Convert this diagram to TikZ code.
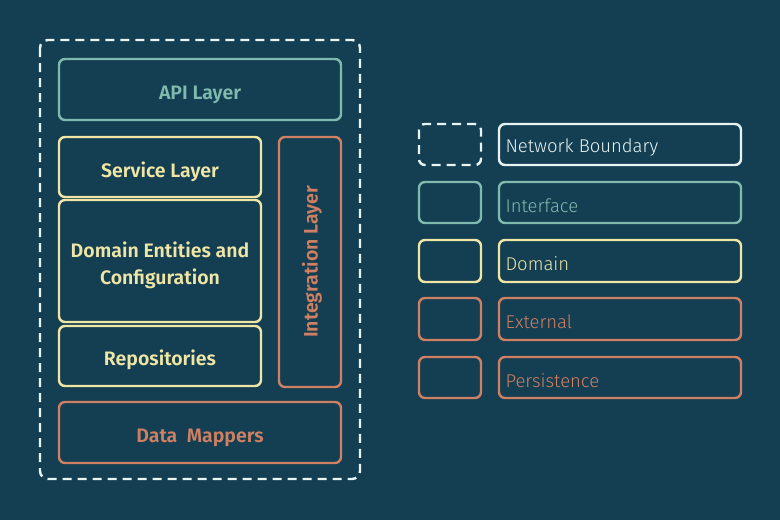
\documentclass[tikz,border=0pt]{standalone}
\usepackage{fontspec}
\setmainfont{Fira Sans}[BoldFont={Fira Sans SemiBold}]
\newfontfamily\lightfont{Fira Sans Light}
\definecolor{bg}{HTML}{143E52}
\definecolor{cwhite}{HTML}{E6F4F2}
\definecolor{cteal}{HTML}{80BAAF}
\definecolor{cyel}{HTML}{EFE6A6}
\definecolor{corg}{HTML}{CF8062}
\begin{document}
\begin{tikzpicture}[x=1pt,y=-1pt,
  box/.style={draw,line width=2.4pt,rounded corners=6pt},
  lbl/.style={font=\bfseries\fontsize{19.5}{27}\selectfont,align=center},
  leg/.style={font=\lightfont\fontsize{18.5}{22}\selectfont,anchor=west},
]
\fill[bg] (0,0) rectangle (780,520);
\useasboundingbox (0,0) rectangle (780,520);
% outer boundary
\draw[cwhite,line width=2.4pt,dash pattern=on 9pt off 6pt,rounded corners=8pt] (40,40) rectangle (360,479);
% layers
\draw[box,cteal] (59,59) rectangle (341,120);
\node[lbl,text=cteal] (api) at (200,95) {API Layer};
\draw[box,cyel] (59,137) rectangle (261,197);
\node[lbl,text=cyel] (svc) at (160,172) {Service Layer};
\draw[box,cyel] (59,200) rectangle (261,322);
\node[lbl,text=cyel] (dom) at (160,265) {Domain Entities and\\Configuration};
\draw[box,cyel] (59,326) rectangle (261,386);
\node[lbl,text=cyel] (rep) at (160,360) {Repositories};
\draw[box,corg] (279,137) rectangle (341,387);
\node[lbl,text=corg,rotate=90] (int) at (312,262) {Integration Layer};
\draw[box,corg] (59,402) rectangle (341,463);
\node[lbl,text=corg] (dm) at (200,438) {Data\ \ Mappers};
% legend
\draw[cwhite,line width=2.4pt,dash pattern=on 9pt off 6pt,rounded corners=6pt] (419,124) rectangle (481,165);
\draw[box,cwhite] (499,124) rectangle (741,165);
\node[leg,text=cwhite] (l1) at (502,148) {Network Boundary};
\draw[box,cteal] (419,182) rectangle (481,223);
\draw[box,cteal] (499,182) rectangle (741,223);
\node[leg,text=cteal] (l2) at (502,206) {Interface};
\draw[box,cyel] (419,240) rectangle (481,282);
\draw[box,cyel] (499,240) rectangle (741,282);
\node[leg,text=cyel] (l3) at (502,264) {Domain};
\draw[box,corg] (419,298) rectangle (481,340);
\draw[box,corg] (499,298) rectangle (741,340);
\node[leg,text=corg] (l4) at (502,322) {External};
\draw[box,corg] (419,357) rectangle (481,398);
\draw[box,corg] (499,357) rectangle (741,398);
\node[leg,text=corg] (l5) at (502,381) {Persistence};
\end{tikzpicture}
\end{document}
